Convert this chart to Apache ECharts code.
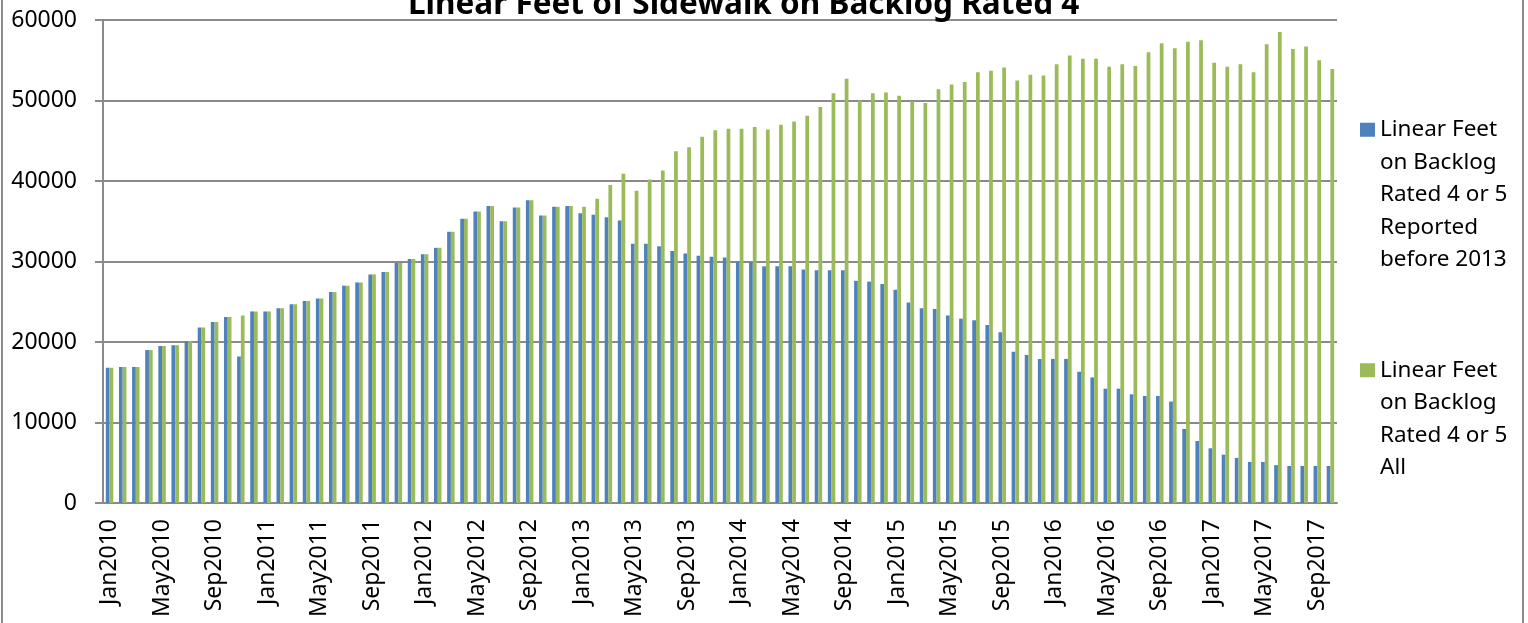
<!DOCTYPE html>
<html>
<head>
<meta charset="utf-8">
<script src="https://cdn.jsdelivr.net/npm/echarts@6/dist/echarts.min.js"></script>
<style>
  html, body { margin: 0; padding: 0; background: #fff; }
  #chart { width: 1528px; height: 623px; }
</style>
</head>
<body>
<div id="chart"></div>
<script>
const months = [
  "Jan2010", "Feb2010", "Mar2010", "Apr2010", "May2010", "Jun2010", "Jul2010", "Aug2010", "Sep2010", "Oct2010", "Nov2010", "Dec2010",
  "Jan2011", "Feb2011", "Mar2011", "Apr2011", "May2011", "Jun2011", "Jul2011", "Aug2011", "Sep2011", "Oct2011", "Nov2011", "Dec2011",
  "Jan2012", "Feb2012", "Mar2012", "Apr2012", "May2012", "Jun2012", "Jul2012", "Aug2012", "Sep2012", "Oct2012", "Nov2012", "Dec2012",
  "Jan2013", "Feb2013", "Mar2013", "Apr2013", "May2013", "Jun2013", "Jul2013", "Aug2013", "Sep2013", "Oct2013", "Nov2013", "Dec2013",
  "Jan2014", "Feb2014", "Mar2014", "Apr2014", "May2014", "Jun2014", "Jul2014", "Aug2014", "Sep2014", "Oct2014", "Nov2014", "Dec2014",
  "Jan2015", "Feb2015", "Mar2015", "Apr2015", "May2015", "Jun2015", "Jul2015", "Aug2015", "Sep2015", "Oct2015", "Nov2015", "Dec2015",
  "Jan2016", "Feb2016", "Mar2016", "Apr2016", "May2016", "Jun2016", "Jul2016", "Aug2016", "Sep2016", "Oct2016", "Nov2016", "Dec2016",
  "Jan2017", "Feb2017", "Mar2017", "Apr2017", "May2017", "Jun2017", "Jul2017", "Aug2017", "Sep2017", "Oct2017",
];

// reported before 2013 (blue)
const before2013 = [
  16800, 16900, 16900, 19000, 19500, 19600, 20100, 21800, 22500, 23100, 18200, 23800,
  23800, 24200, 24700, 25100, 25400, 26200, 27000, 27400, 28400, 28700, 29800, 30300,
  30900, 31700, 33700, 35300, 36200, 36900, 35000, 36700, 37600, 35700, 36800, 36900,
  36000, 35800, 35500, 35100, 32200, 32200, 31900, 31300, 31000, 30700, 30600, 30500,
  30000, 29900, 29400, 29400, 29400, 29000, 28900, 28900, 28900, 27600, 27500, 27200,
  26500, 24900, 24200, 24100, 23300, 22900, 22700, 22100, 21200, 18800, 18400, 17900,
  17900, 17900, 16300, 15600, 14200, 14200, 13500, 13300, 13300, 12600, 9200, 7700,
  6800, 6000, 5600, 5100, 5100, 4700, 4600, 4600, 4600, 4600,
];

// all (green)
const allBacklog = [
  16800, 16900, 16900, 19000, 19500, 19600, 20100, 21800, 22500, 23100, 23300, 23800,
  23800, 24200, 24700, 25100, 25400, 26200, 27000, 27400, 28400, 28700, 29800, 30300,
  30900, 31700, 33700, 35300, 36200, 36900, 35000, 36700, 37600, 35700, 36800, 36900,
  36800, 37800, 39500, 40900, 38800, 40200, 41300, 43700, 44200, 45500, 46300, 46500,
  46500, 46700, 46400, 47000, 47400, 48100, 49200, 50900, 52700, 50000, 50900, 51000,
  50600, 49900, 49700, 51400, 52000, 52300, 53500, 53700, 54100, 52500, 53200, 53100,
  54500, 55600, 55200, 55200, 54200, 54500, 54300, 56000, 57100, 56500, 57300, 57500,
  54700, 54200, 54500, 53500, 57000, 58500, 56400, 56700, 55000, 53900,
];

const seriesNames = [
  "Linear Feet on Backlog Rated 4 or 5 Reported before 2013",
  "Linear Feet on Backlog Rated 4 or 5 All",
];
const legendLines = [
  ["Linear Feet", "on Backlog", "Rated 4 or 5", "Reported", "before 2013"],
  ["Linear Feet", "on Backlog", "Rated 4 or 5", "All"],
];

const FONT = "Noto Sans";
const GRAY = "#8a8a8a";
const LINE_H = 32.5;

const chart = echarts.init(document.getElementById("chart"), null, {
  renderer: "canvas",
});

// the icon is centred on the text block, so blank lines above push
// the first text line level with the icon
function legendFor(i, top) {
  const lines = legendLines[i];
  const text = "\n".repeat(lines.length - 1) + lines.join("\n");
  return {
    orient: "vertical",
    left: 1360,
    top: top,
    padding: 0,
    itemWidth: 15,
    itemHeight: 14,
    icon: "rect",
    data: [seriesNames[i]],
    formatter: () => text,
    textStyle: {
      fontFamily: FONT,
      fontSize: 22.5,
      color: "#000",
      lineHeight: LINE_H,
    },
  };
}

const option = {
  backgroundColor: "#fff",
  animation: false,
  color: ["#4F81BD", "#9BBB59"],
  title: {
    text: "Linear Feet of Sidewalk on Backlog Rated 4",
    left: 408,
    top: -10.5,
    padding: 0,
    textStyle: {
      fontFamily: FONT,
      fontSize: 31.5,
      fontWeight: "bold",
      color: "#000",
    },
  },
  legend: [legendFor(0, -16.5), legendFor(1, 256.5)],
  grid: {
    left: 103,
    right: 191,
    top: 20,
    bottom: 120,
    containLabel: false,
  },
  xAxis: {
    type: "category",
    data: months,
    boundaryGap: true,
    axisLine: { lineStyle: { color: GRAY, width: 2 } },
    axisTick: {
      interval: 1,
      length: 9,
      lineStyle: { color: GRAY, width: 2 },
    },
    axisLabel: {
      interval: 3,
      rotate: 90,
      margin: 16,
      padding: [8, 0, 0, 0],
      fontFamily: FONT,
      fontSize: 23,
      color: "#000",
    },
  },
  yAxis: {
    type: "value",
    min: 0,
    max: 60000,
    interval: 10000,
    axisLine: { show: true, lineStyle: { color: GRAY, width: 2 } },
    axisTick: { show: true, length: 8, lineStyle: { color: GRAY, width: 2 } },
    splitLine: { lineStyle: { color: GRAY, width: 2 } },
    axisLabel: {
      margin: 26,
      fontFamily: FONT,
      fontSize: 23,
      color: "#000",
      formatter: (v) => String(v),
    },
  },
  graphic: [
    {
      type: "rect",
      shape: { x: 2, y: -10, width: 1521, height: 640 },
      style: { fill: null, stroke: GRAY, lineWidth: 2 },
      silent: true,
    },
  ],
  series: [
    {
      name: seriesNames[0],
      type: "bar",
      data: before2013,
      barGap: "0%",
      barCategoryGap: "43%",
    },
    {
      name: seriesNames[1],
      type: "bar",
      data: allBacklog,
      barGap: "0%",
      barCategoryGap: "43%",
    },
  ],
};

chart.setOption(option);
</script>
</body>
</html>
